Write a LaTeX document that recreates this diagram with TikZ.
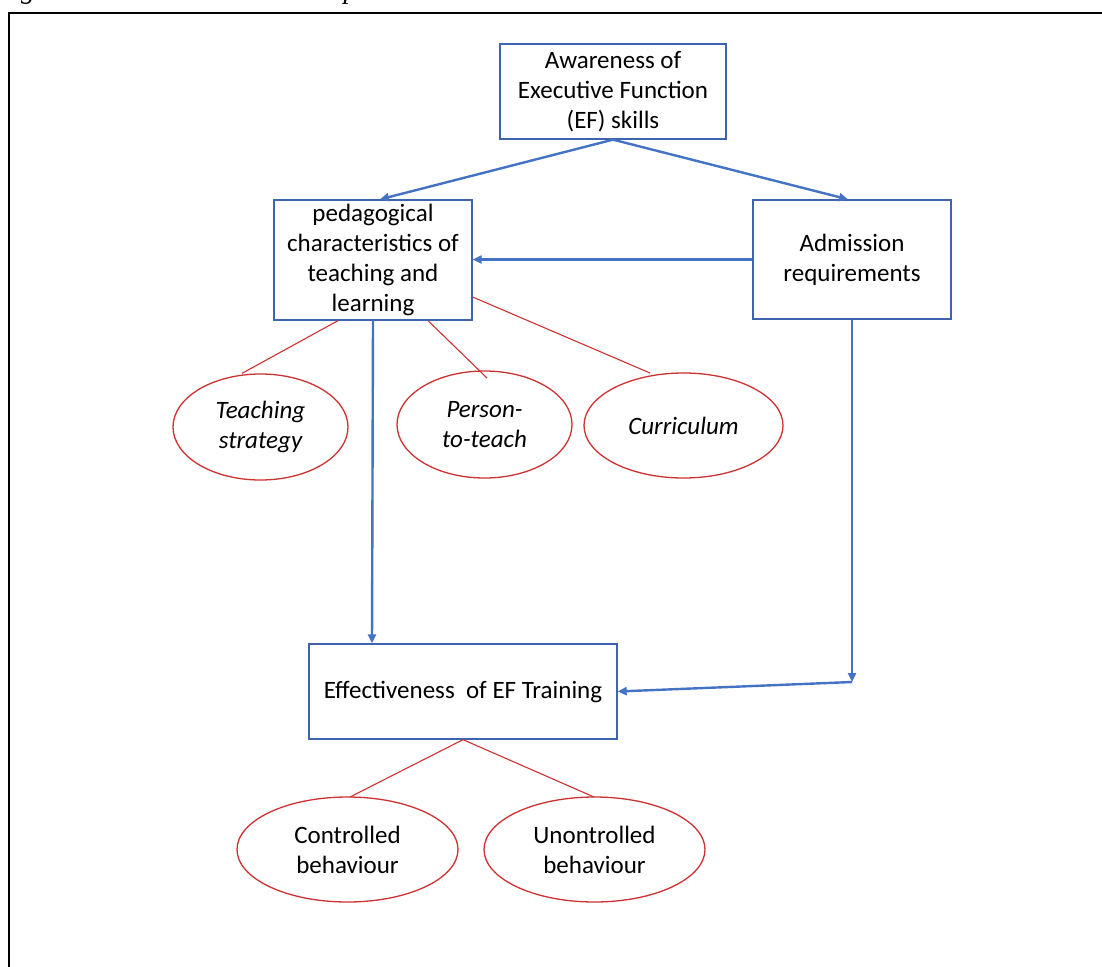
\documentclass[tikz,border=0pt]{standalone}
\usepackage{fontspec}
\setmainfont{Carlito}
\newfontfamily\capfont{Liberation Serif}
\usetikzlibrary{arrows.meta,shapes.geometric}
\definecolor{bluel}{RGB}{68,114,196}
\definecolor{boxb}{RGB}{60,100,175}
\definecolor{redl}{RGB}{204,50,50}
\tikzset{
  x=1pt, y=-1pt,
  box/.style={draw=boxb, line width=1.3pt, align=center, inner sep=0pt,
    font=\fontsize{25}{30}\selectfont},
  oval/.style={draw=redl, line width=1.3pt, ellipse, inner sep=0pt, align=center,
    font=\fontsize{25}{30}\selectfont\itshape},
  ovaln/.style={oval, font=\fontsize{25}{30}\selectfont},
  flow/.style={draw=bluel, line width=2.4pt, -{Triangle[length=9pt,width=8pt]}},
  tie/.style={draw=redl, line width=1.1pt},
}
\begin{document}
\begin{tikzpicture}
\useasboundingbox (0,0) rectangle (1102,966);
\fill[white] (0,0) rectangle (1102,966);
% caption (cut off at top)
\node[anchor=base west, inner sep=0pt, font=\capfont\itshape\fontsize{28}{32}\selectfont] (cap) at (-4,-1) {Figure 1 Initial Interaction Map};
% frame
\draw[line width=2.2pt] (9,1000) -- (9,13) -- (1130,13);
% boxes
\node[box, minimum width=226pt, minimum height=95pt] (aw) at (613,91.5) {Awareness of\\Executive Function\\(EF) skills};
\node[box, minimum width=198pt, minimum height=120pt] (ped) at (373,260) {pedagogical\\characteristics of\\teaching and\\learning};
\node[box, minimum width=198pt, minimum height=119pt] (adm) at (852,259.5) {Admission\\requirements};
\node[box, minimum width=308pt, minimum height=95pt] (eff) at (463,691.5) {Effectiveness\ \ of EF Training};
% ellipses
\node[oval, minimum width=175pt, minimum height=106pt] (ts) at (260.5,427) {Teaching\\strategy};
\node[oval, minimum width=175pt, minimum height=107pt] (pt) at (484.5,424.5) {Person-\\to-teach};
\node[oval, minimum width=199pt, minimum height=105pt] (cu) at (683.5,425.5) {Curriculum};
\node[ovaln, minimum width=221pt, minimum height=105pt] (cb) at (347.5,849.5) {Controlled\\behaviour};
\node[ovaln, minimum width=221pt, minimum height=105pt] (ub) at (594.5,849.5) {Unontrolled\\behaviour};
% blue connectors
\path[flow] (aw.south) -- (ped.north -| 380,0);
\path[flow] (aw.south) -- (adm.north -| 848,0);
\path[flow] (adm.west) -- (ped.east |- adm.west);
\path[flow] (ped.south -| 373,0) -- (eff.north -| 372,0);
\coordinate (turn) at (852,682);
\path[flow] (adm.south) -- (turn);
\path[flow] (turn) -- (eff.east);
% red ties
\path[tie] (ped.south -| 338,0) -- (ts.north -| 242,0);
\path[tie] (ped.south -| 428,0) -- (487,378);
\path[tie] (ped.east |- 0,297) -- (650,373);
\path[tie] (eff.south) -- (350,797);
\path[tie] (eff.south) -- (594,797);
\end{tikzpicture}
\end{document}
